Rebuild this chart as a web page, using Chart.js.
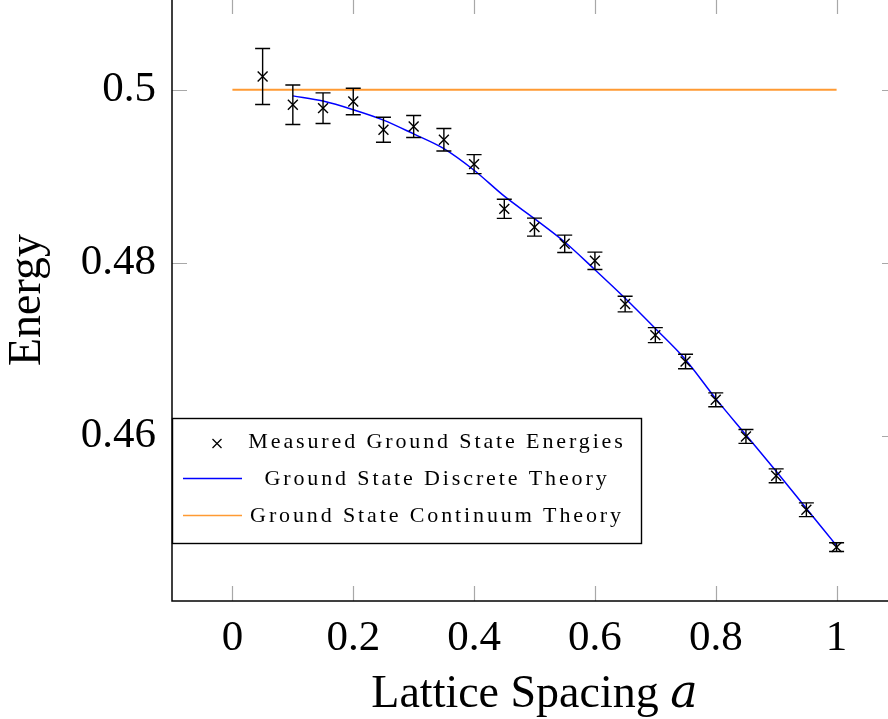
<!DOCTYPE html>
<html><head><meta charset="utf-8">
<script src="https://cdn.jsdelivr.net/npm/chart.js@4/dist/chart.umd.min.js"></script>
<style>
html,body{margin:0;padding:0;overflow:hidden;background:#fff;width:888px;height:719px}
#wrap{position:absolute;left:0;top:-60px;width:960px;height:783px}
</style></head>
<body><div id="wrap"><canvas id="c" width="960" height="783"></canvas></div>
<script>
// ---- data ----
const latticeSpacing = [0.05,0.1,0.15,0.2,0.25,0.3,0.35,0.4,0.45,0.5,0.55,0.6,0.65,0.7,0.75,0.8,0.85,0.9,0.95,1.0];
const measuredEnergy = [0.50154,0.49827,0.49788,0.49865,0.49538,0.49576,0.49422,0.49141,0.48624,0.48413,0.48220,0.48023,0.47523,0.47164,0.46859,0.46416,0.45992,0.45538,0.45145,0.44713];
const measuredError  = [0.00324,0.00228,0.00177,0.00154,0.00145,0.00127,0.00130,0.00110,0.00110,0.00104,0.00100,0.00100,0.00090,0.00087,0.00084,0.00080,0.00080,0.00080,0.00080,0.00050];
const theorySpacing  = [0.1,0.15,0.2,0.25,0.3,0.35,0.4,0.45,0.5,0.55,0.6,0.65,0.7,0.75,0.8,0.85,0.9,0.95,1.0];
const discreteTheory = [0.4993,0.4987,0.4977,0.4965,0.4949,0.4932,0.4907,0.4877,0.4851,0.4824,0.4792,0.4759,0.4724,0.4688,0.4643,0.4601,0.4559,0.4516,0.4473];
const continuumSpacing = [0, 1];
const continuumTheory  = [0.5, 0.5];
const xTicks = [0, 0.2, 0.4, 0.6, 0.8, 1];
const yTicks = [0.46, 0.48, 0.5];
const seriesLabels = ['Measured Ground State Energies','Ground State Discrete Theory','Ground State Continuum Theory'];
const xTitle = 'Lattice Spacing 𝑎';
const yTitle = 'Energy';

const SERIF = '"Liberation Serif","DejaVu Serif",serif';
const fmt = v => String(Math.round(v*100)/100);

const frame = {
  id:'frame',
  beforeDatasetsDraw(chart){
    const {ctx, chartArea:a, scales:{x,y}} = chart;
    const tl = 15;
    ctx.save();
    ctx.strokeStyle = '#a8a8a8'; ctx.lineWidth = 1.2;
    xTicks.forEach(v=>{
      const px = Math.round(x.getPixelForValue(v))+0.5;
      ctx.beginPath();
      ctx.moveTo(px,a.bottom); ctx.lineTo(px,a.bottom-tl);
      ctx.moveTo(px,a.top); ctx.lineTo(px,a.top+tl);
      ctx.stroke();
    });
    yTicks.forEach(v=>{
      const py = Math.round(y.getPixelForValue(v))+0.5;
      ctx.beginPath();
      ctx.moveTo(a.left,py); ctx.lineTo(a.left+tl,py);
      ctx.moveTo(a.right,py); ctx.lineTo(a.right-tl,py);
      ctx.stroke();
    });
    ctx.strokeStyle = '#000'; ctx.lineWidth = 1.5;
    ctx.strokeRect(a.left, a.top, a.right-a.left, a.bottom-a.top);
    ctx.restore();
  }
};

const errorBars = {
  id:'errorBars',
  afterDatasetsDraw(chart){
    const {ctx, scales:{x,y}} = chart;
    ctx.save();
    ctx.strokeStyle = '#000'; ctx.lineWidth = 1.4;
    latticeSpacing.forEach((xv,i)=>{
      const px = x.getPixelForValue(xv);
      const yt = y.getPixelForValue(measuredEnergy[i]+measuredError[i]);
      const yb = y.getPixelForValue(measuredEnergy[i]-measuredError[i]);
      const cw = 7.5;
      ctx.beginPath();
      ctx.moveTo(px,yt); ctx.lineTo(px,yb);
      ctx.moveTo(px-cw,yt); ctx.lineTo(px+cw,yt);
      ctx.moveTo(px-cw,yb); ctx.lineTo(px+cw,yb);
      ctx.stroke();
    });
    ctx.restore();
  }
};

const legendBox = {
  id:'legendBox',
  afterDraw(chart){
    const {ctx, chartArea:a} = chart;
    const bw = 469, bh = 125;
    const bx = a.left, by = a.bottom - 58 - bh;
    ctx.save();
    ctx.fillStyle = '#fff'; ctx.fillRect(bx,by,bw,bh);
    ctx.strokeStyle = '#000'; ctx.lineWidth = 1.4;
    ctx.strokeRect(bx+0.5,by+0.5,bw,bh);
    const ds = chart.data.datasets;
    const rowY = [23.5, 60.5, 97.5];
    ctx.font = '22px ' + SERIF;
    const w0 = ctx.measureText(ds[2].label).width;
    const sp = Math.max(0,(371 - w0)/(ds[2].label.length-1));
    if ('letterSpacing' in ctx) ctx.letterSpacing = sp.toFixed(2)+'px';
    ctx.fillStyle = '#000'; ctx.textAlign = 'center'; ctx.textBaseline = 'middle';
    ds.forEach((d,i)=>{
      const cy = by + rowY[i];
      if (i===0){
        const cx = bx+45, r=4.5;
        ctx.strokeStyle='#000'; ctx.lineWidth=1.3;
        ctx.beginPath();
        ctx.moveTo(cx-r,cy+2-r); ctx.lineTo(cx+r,cy+2+r);
        ctx.moveTo(cx-r,cy+2+r); ctx.lineTo(cx+r,cy+2-r);
        ctx.stroke();
      } else {
        ctx.strokeStyle = d.borderColor; ctx.lineWidth = 1.5;
        ctx.beginPath(); ctx.moveTo(bx+11,cy); ctx.lineTo(bx+70,cy); ctx.stroke();
      }
      ctx.fillText(d.label, bx+265, cy+1);
    });
    ctx.restore();
  }
};

new Chart(document.getElementById('c'), {
  type:'scatter',
  data:{
    datasets:[
      { label:seriesLabels[0],
        data: latticeSpacing.map((v,i)=>({x:v,y:measuredEnergy[i]})),
        showLine:false, pointStyle:'crossRot', pointRadius:7, borderColor:'#000', backgroundColor:'#000', pointBorderWidth:1.4 },
      { label:seriesLabels[1],
        data: theorySpacing.map((v,i)=>({x:v,y:discreteTheory[i]})),
        showLine:true, pointRadius:0, borderColor:'#0000ff', borderWidth:1.5, cubicInterpolationMode:'monotone', fill:false },
      { label:seriesLabels[2],
        data: continuumSpacing.map((v,i)=>({x:v,y:continuumTheory[i]})),
        showLine:true, pointRadius:0, borderColor:'#ff9a33', borderWidth:2, fill:false }
    ]
  },
  options:{
    responsive:false, devicePixelRatio:1, animation:false,
    layout:{padding:{left:0, top:59, right:63, bottom:0}},
    plugins:{legend:{display:false}, tooltip:{enabled:false}},
    scales:{
      x:{ type:'linear', min:-0.1, max:1.1,
          afterBuildTicks:s=>{ s.ticks = xTicks.map(v=>({value:v})); },
          afterFit:s=>{ s.height = 122; },
          grid:{display:false}, border:{display:false},
          ticks:{ callback:v=>fmt(v), color:'#000', font:{family:SERIF,size:43}, padding:4, maxRotation:0, autoSkip:false },
          title:{ display:true, text:xTitle, color:'#000', font:{family:SERIF,size:46}, padding:0 } },
      y:{ type:'linear', min:0.4409, max:0.5105,
          afterBuildTicks:s=>{ s.ticks = yTicks.map(v=>({value:v})); },
          afterFit:s=>{ s.width = 172; },
          grid:{display:false}, border:{display:false},
          ticks:{ callback:v=>fmt(v), color:'#000', font:{family:SERIF,size:43}, padding:8, autoSkip:false },
          title:{ display:true, text:yTitle, color:'#000', font:{family:SERIF,size:46}, padding:0 } }
    }
  },
  plugins:[frame, errorBars, legendBox]
});
</script>
</body></html>
